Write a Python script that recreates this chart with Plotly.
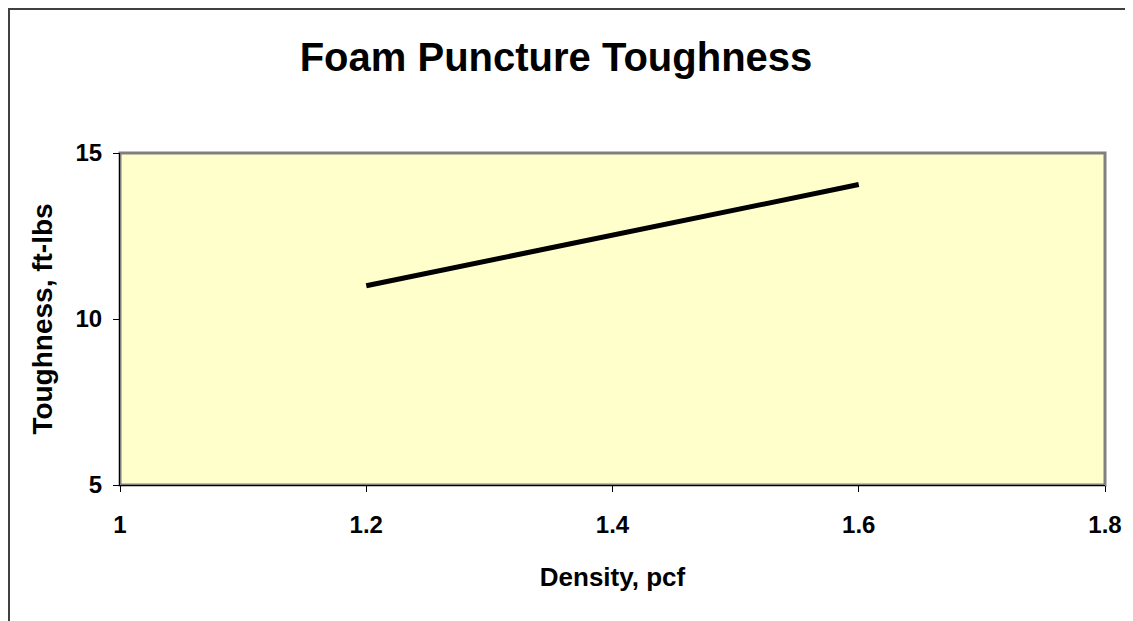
import plotly.graph_objects as go

density = [1.2, 1.6]
toughness = [11.0, 14.05]
x_ticks = [1, 1.2, 1.4, 1.6, 1.8]
y_ticks = [5, 10, 15]

# page is rendered with an 8px body margin, so the figure is sized/offset for that
OFF = 8
W, H = 1133 - OFF, 621 - OFF
L, T = 120 - OFF, 153 - OFF
pw, ph = 985, 332
R, B = W - L - pw, H - T - ph

def px_x(x):
    return (x - L) / pw

def px_y(y):
    return (T + ph - y) / ph

fig = go.Figure()
fig.add_trace(go.Scatter(x=density, y=toughness, mode="lines",
                         line=dict(color="black", width=5), showlegend=False))

font = "Liberation Sans, Arial, sans-serif"
fig.update_layout(
    width=W, height=H,
    margin=dict(l=L, r=R, t=T, b=B),
    paper_bgcolor="white",
    plot_bgcolor="#FFFFCC",
    title=dict(text="<b>Foam Puncture Toughness</b>", x=548 / W, xref="container",
               y=1 - 49 / H, yref="container", yanchor="middle", xanchor="center",
               font=dict(family=font, size=40, color="black")),
    xaxis=dict(range=[1, 1.8], tickvals=x_ticks, ticktext=[str(v) for v in x_ticks],
               showgrid=False, zeroline=False, showline=True, linecolor="black", linewidth=1,
               ticks="outside", ticklen=6, tickcolor="black", ticklabelstandoff=12,
               tickfont=dict(family=font, size=24, color="black", weight="bold"),
               title=dict(text="<b>Density, pcf</b>", standoff=31,
                          font=dict(family=font, size=26, color="black"))),
    yaxis=dict(range=[5, 15], tickvals=y_ticks,
               showgrid=False, zeroline=False, showline=True, linecolor="black", linewidth=1,
               ticks="outside", ticklen=6, tickcolor="black", ticklabelstandoff=6,
               tickfont=dict(family=font, size=24, color="black", weight="bold"),
               title=dict(text="<b>Toughness, ft-lbs</b>", standoff=14,
                          font=dict(family=font, size=28, color="black"))),
    shapes=[
        dict(type="rect", xref="paper", yref="paper", x0=0, x1=1, y0=0, y1=1,
             line=dict(color="#808080", width=3), layer="below"),
        dict(type="rect", xref="paper", yref="paper",
             x0=px_x(1), x1=px_x(1130 - OFF), y0=px_y(H + 10), y1=px_y(1),
             line=dict(color="#404040", width=2), fillcolor="rgba(0,0,0,0)"),
    ],
)

fig.write_html("out.html")
